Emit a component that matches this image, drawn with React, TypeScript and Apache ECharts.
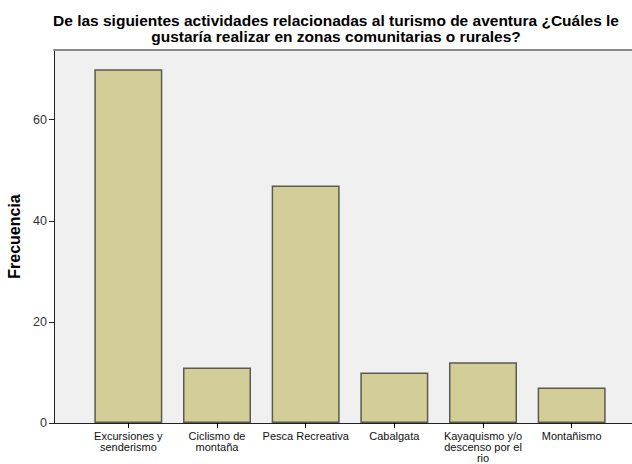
import React, { useEffect, useRef } from "react";
import * as echarts from "echarts";

const titleLines = [
  "De las siguientes actividades relacionadas al turismo de aventura ¿Cuáles le",
  "gustaría realizar en zonas comunitarias o rurales?",
];
const categories = [
  "Excursiones y\nsenderismo",
  "Ciclismo de\nmontaña",
  "Pesca Recreativa",
  "Cabalgata",
  "Kayaquismo y/o\ndescenso por el\nrio",
  "Montañismo",
];
const frecuencia = [70, 11, 47, 10, 12, 7];
const yAxisName = "Frecuencia";
const yMax = 73.8;
const yInterval = 20;

const FONT = "'Liberation Sans', Arial, sans-serif";

export default function App() {
  const ref = useRef<HTMLDivElement>(null);
  useEffect(() => {
    if (!ref.current) return;
    const chart = echarts.init(ref.current, undefined, { renderer: "svg" });
    chart.setOption({
      animation: false,
      backgroundColor: "#ffffff",
      textStyle: { fontFamily: FONT },
      title: {
        text: titleLines.join("\n"),
        left: 331,
        top: 8,
        textAlign: "center",
        textStyle: {
          fontFamily: FONT,
          fontSize: 15.5,
          fontWeight: "bold",
          color: "#000",
          lineHeight: 15.5,
        },
      },
      grid: [
        {
          left: 54,
          top: 50,
          right: 0,
          bottom: 41,
          show: true,
          backgroundColor: "#F0F0F0",
          borderWidth: 0,
          containLabel: false,
          outerBoundsMode: "none",
        },
        {
          left: 84,
          top: 50,
          right: 16,
          bottom: 41,
          containLabel: false,
          outerBoundsMode: "none",
        },
      ],
      xAxis: [
        {
          type: "category",
          gridIndex: 0,
          data: [""],
          axisLine: { show: true, lineStyle: { color: "#222", width: 1 } },
          axisTick: { show: false },
          axisLabel: { show: false },
        },
        {
          type: "category",
          gridIndex: 0,
          position: "top",
          data: [""],
          axisLine: { show: true, lineStyle: { color: "#888", width: 2 } },
          axisTick: { show: false },
          axisLabel: { show: false },
        },
        {
          type: "category",
          gridIndex: 1,
          data: categories,
          axisLine: { show: false },
          axisTick: {
            show: true,
            alignWithLabel: true,
            length: 5,
            lineStyle: { color: "#000" },
          },
          axisLabel: {
            interval: 0,
            fontSize: 11,
            lineHeight: 11,
            color: "#111",
            margin: 7,
            fontFamily: FONT,
          },
        },
      ],
      yAxis: [
        {
          type: "value",
          gridIndex: 0,
          min: 0,
          max: yMax,
          interval: yInterval,
          name: yAxisName,
          nameLocation: "middle",
          nameGap: 27,
          nameTextStyle: {
            fontFamily: FONT,
            fontSize: 16,
            fontWeight: "bold",
            color: "#000",
          },
          axisLine: { show: true, lineStyle: { color: "#222", width: 1 } },
          axisTick: { show: true, length: 5, lineStyle: { color: "#222" } },
          axisLabel: {
            fontSize: 12.5,
            color: "#333",
            margin: 7,
            fontFamily: FONT,
            showMaxLabel: false,
          },
          splitLine: { show: false },
        },
        {
          type: "value",
          gridIndex: 1,
          min: 0,
          max: yMax,
          interval: yInterval,
          show: false,
          splitLine: { show: false },
        },
      ],
      series: [
        {
          type: "bar",
          xAxisIndex: 2,
          yAxisIndex: 1,
          data: frecuencia,
          barWidth: 68,
          itemStyle: {
            color: "#D3CE97",
            borderColor: "#5A5A50",
            borderWidth: 1.5,
          },
        },
      ],
    });
    return () => chart.dispose();
  }, []);
  return (
    <div
      ref={ref}
      style={{ position: "fixed", left: 0, top: 0, width: 632, height: 464 }}
    />
  );
}
